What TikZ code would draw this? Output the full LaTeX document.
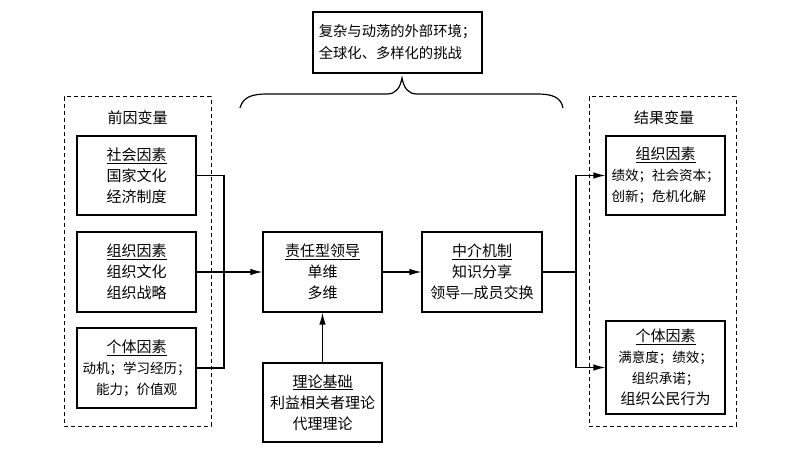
\documentclass[tikz,border=0pt]{standalone}
\usepackage{fontspec}
\setmainfont{Noto Sans CJK SC}
\usetikzlibrary{arrows.meta}
\newcommand\myfs{\fontsize{15}{21}\selectfont}
\newcommand\mysmall{\fontsize{13.5}{21}\selectfont}
\newcommand\mytop{\fontsize{14.3}{22}\selectfont}
\begin{document}
\begin{tikzpicture}[x=1pt,y=-1pt,
  box/.style={draw,line width=1.2pt,inner sep=0pt,align=center,font=\myfs,minimum width=119pt},
  dbox/.style={draw,line width=1pt,dash pattern=on 4pt off 3pt,inner sep=0pt,minimum width=147pt,minimum height=329pt},
  conn/.style={line width=1.2pt},
  arr/.style={line width=1.2pt,-{Latex[length=12pt,width=6.5pt]}},
  ttl/.style={font=\myfs,inner sep=0pt}]
\useasboundingbox (0,0) rectangle (800,457);
% top environment box
\node[box,minimum width=169pt,minimum height=61pt,align=left,font=\mytop] (env) at (397.5,42.5)
  {复杂与动荡的外部环境；\\全球化、多样化的挑战};
% brace
\draw[line width=1.2pt] (240,108) .. controls (243,97) and (252,94) .. (267,94) -- (387,94)
  .. controls (396,94) and (400,88) .. (402,78)
  .. controls (404,88) and (408,94) .. (417,94) -- (537,94)
  .. controls (552,94) and (561,97) .. (563,108);
% left dashed group
\node[dbox] (ante) at (137.5,261.5) {};
\node[ttl] (anteT) at (137.5,118) {前因变量};
\node[box,minimum height=79pt] (b1) at (136.5,175.5) {\underline{社会因素}\\国家文化\\经济制度};
\node[box,minimum height=80pt] (b2) at (136.5,272) {\underline{组织因素}\\组织文化\\组织战略};
\node[box,minimum height=80pt] (b3) at (136.5,368) {\underline{个体因素}\\{\mysmall 动机；学习经历；}\\{\mysmall 能力；价值观}};
% center
\node[box,minimum height=80pt] (lead) at (322.5,272) {\underline{责任型领导}\\单维\\多维};
\node[box,minimum height=79pt] (theory) at (322.5,402.5) {\underline{理论基础}\\利益相关者理论\\代理理论};
\node[box,minimum width=120pt,minimum height=80pt] (med) at (482,272) {\underline{中介机制}\\知识分享\\领导—成员交换};
% right dashed group
\node[dbox] (outc) at (662.5,261.5) {};
\node[ttl] (outcT) at (664,118) {结果变量};
\node[box,minimum height=79pt] (o1) at (665.5,175.5) {\underline{组织因素}\\{\mysmall\makebox[108pt][l]{绩效；社会资本；}}\\{\mysmall\makebox[108pt][l]{创新；危机化解}}};
\node[box,minimum height=93pt] (o2) at (665.5,367.5) {\underline{个体因素}\\{\mysmall 满意度；绩效；}\\{\mysmall 组织承诺；}\\组织公民行为};
% connectors
\coordinate (jL) at (224,272);
\coordinate (jR) at (576,272);
\draw[conn] (b1.east) -| (jL) |- (b3.east);
\draw[arr] (b2.east) -- (lead.west);
\draw[arr] (theory.north) -- (lead.south);
\draw[arr] (lead.east) -- (med.west);
\draw[conn] (med.east) -- (jR);
\draw[arr] (jR) |- (o1.west);
\draw[arr] (jR) |- (o2.west);
\end{tikzpicture}
\end{document}
